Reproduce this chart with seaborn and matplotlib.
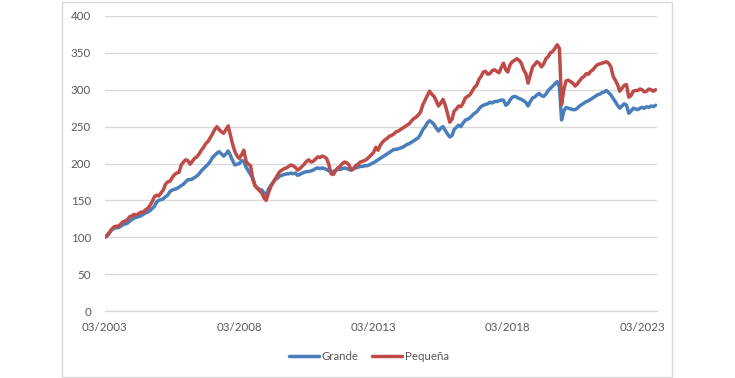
import numpy as np
import pandas as pd
import matplotlib
matplotlib.use("Agg")
import matplotlib.pyplot as plt
import matplotlib.dates as mdates
from matplotlib.patches import Rectangle
import seaborn as sns

# Monthly index values (base 100 = 03/2003)
grande = [
    100, 102, 106, 110, 112, 113, 113, 115, 117, 118,                  # 2003 (Mar-Dec)
    119, 122, 124, 126, 127, 128, 129, 131, 133, 134, 136, 139,        # 2004
    142, 148, 150, 151, 152, 155, 157, 162, 164, 165, 166, 168,        # 2005
    170, 172, 175, 178, 178, 179, 181, 183, 186, 190, 193, 196,        # 2006
    199, 203, 208, 211, 214, 216, 213, 210, 213, 217, 211, 204,        # 2007
    198, 199, 200, 204, 203, 195, 190, 185, 180, 170, 167, 165,        # 2008
    164, 160, 157, 165, 170, 174, 178, 180, 183, 184, 185, 186,        # 2009
    186, 187, 186, 187, 184, 185, 187, 188, 189, 189, 190, 191,        # 2010
    193, 194, 193, 194, 193, 192, 190, 189, 189, 191, 192, 192,        # 2011
    193, 194, 193, 192, 191, 193, 194, 195, 196, 196, 197, 197,        # 2012
    198, 200, 201, 203, 205, 207, 209, 211, 213, 215, 217, 219,        # 2013
    219, 220, 221, 222, 224, 226, 227, 229, 231, 233, 235, 240,        # 2014
    246, 250, 255, 258, 256, 253, 248, 244, 248, 250, 245, 240,        # 2015
    236, 238, 246, 249, 252, 250, 255, 259, 260, 262, 265, 268,        # 2016
    270, 274, 277, 279, 280, 281, 283, 282, 284, 284, 285, 286,        # 2017
    286, 279, 281, 286, 290, 291, 290, 288, 287, 285, 283, 278,        # 2018
    284, 289, 290, 293, 295, 292, 291, 294, 299, 302, 305, 308,        # 2019
    311, 304, 259, 271, 276, 275, 274, 273, 273, 275, 278, 280,        # 2020
    282, 284, 285, 287, 289, 291, 293, 294, 296, 297, 299, 296,        # 2021
    293, 288, 284, 279, 275, 278, 281, 279, 268, 271, 275, 274,        # 2022
    273, 275, 276, 275, 277, 276, 278, 277, 279,                       # 2023 (Jan-Sep)
]

pequena = [
    100, 103, 107, 111, 114, 115, 115, 118, 121, 122,                  # 2003 (Mar-Dec)
    124, 128, 129, 131, 130, 132, 134, 134, 137, 139, 143, 148,        # 2004
    155, 157, 156, 160, 164, 172, 175, 176, 181, 185, 187, 188,        # 2005
    198, 202, 205, 204, 199, 203, 207, 209, 213, 218, 222, 227,        # 2006
    230, 235, 240, 246, 250, 246, 243, 241, 246, 251, 238, 226,        # 2007
    216, 210, 207, 212, 218, 203, 199, 197, 178, 170, 166, 163,        # 2008
    160, 153, 150, 160, 168, 174, 179, 184, 189, 191, 193, 194,        # 2009
    196, 198, 197, 195, 191, 193, 196, 199, 203, 205, 202, 203,        # 2010
    206, 209, 208, 210, 209, 207, 199, 186, 185, 190, 194, 196,        # 2011
    200, 202, 201, 198, 191, 193, 197, 199, 202, 203, 204, 206,        # 2012
    209, 212, 215, 222, 218, 225, 229, 232, 234, 237, 238, 240,        # 2013
    243, 244, 246, 248, 250, 252, 254, 258, 261, 263, 266, 270,        # 2014
    280, 286, 292, 298, 294, 291, 285, 278, 282, 287, 279, 268,        # 2015
    256, 260, 271, 274, 278, 277, 282, 289, 291, 293, 298, 303,        # 2016
    306, 314, 318, 324, 325, 321, 322, 326, 327, 325, 323, 330,        # 2017
    336, 327, 324, 334, 338, 340, 342, 340, 336, 327, 322, 309,        # 2018
    320, 331, 334, 338, 336, 331, 335, 342, 345, 350, 352, 356,        # 2019
    361, 356, 280, 300, 312, 313, 311, 309, 305, 308, 312, 316,        # 2020
    318, 322, 321, 325, 327, 331, 334, 335, 336, 337, 338, 336,        # 2021
    331, 318, 313, 307, 298, 302, 306, 307, 290, 292, 298, 299,        # 2022
    299, 301, 300, 297, 298, 301, 300, 298, 300,                       # 2023 (Jan-Sep)
]

series_names = ["Grande", "Pequeña"]
colors = ["#4A7EBB", "#BE4B48"]
tick_years = [2003, 2008, 2013, 2018, 2023]

dates = pd.date_range("2003-03-01", periods=len(grande), freq="MS")
df = pd.DataFrame({
    "Fecha": np.concatenate([dates, dates]),
    "Valor": grande + pequena,
    "Serie": [series_names[0]] * len(grande) + [series_names[1]] * len(pequena),
})

sns.set_style("white")
plt.rcParams["font.family"] = ["Lato", "DejaVu Sans"]

fig = plt.figure(figsize=(7.35, 3.78), dpi=100)
ax = fig.add_axes([105 / 735, 1 - 311 / 378, (657 - 105) / 735, (311 - 16) / 378])

# outer chart border
fig.patches.append(Rectangle((62 / 735, 1 / 378), (672 - 62) / 735, (376 - 1) / 378,
                             transform=fig.transFigure, fill=False,
                             edgecolor="#D9D9D9", linewidth=1))

sns.lineplot(data=df, x="Fecha", y="Valor", hue="Serie", palette=colors,
             linewidth=2.5, ax=ax, legend=False)

ax.set_ylim(0, 400)
ax.set_yticks(range(0, 401, 50))
ax.set_xlim(pd.Timestamp("2003-03-01"), pd.Timestamp("2023-09-20"))
ax.set_xticks([pd.Timestamp(f"{y}-03-01") for y in tick_years])
ax.xaxis.set_major_formatter(mdates.DateFormatter("%m/%Y"))

ax.grid(axis="y", color="#D9D9D9", linewidth=1)
ax.set_axisbelow(True)
for side in ["top", "right", "left"]:
    ax.spines[side].set_visible(False)
ax.spines["bottom"].set_color("#D9D9D9")
ax.spines["bottom"].set_linewidth(1)

ax.tick_params(axis="y", length=0, pad=10, labelsize=8.3, labelcolor="#595959")
ax.tick_params(axis="x", length=4, width=1, color="#D9D9D9", pad=4,
               labelsize=8.3, labelcolor="#595959")
ax.set_xlabel("")
ax.set_ylabel("")

handles = [plt.Line2D([], [], color=c, linewidth=2.5) for c in colors]
fig.legend(handles, series_names, loc="center", bbox_to_anchor=(369 / 735, 1 - 357 / 378),
           ncol=2, frameon=False, fontsize=8.3, labelcolor="#595959",
           handlelength=2.6, handletextpad=0.2, columnspacing=1.2)

fig.savefig("out.png", dpi=100, facecolor="white")
